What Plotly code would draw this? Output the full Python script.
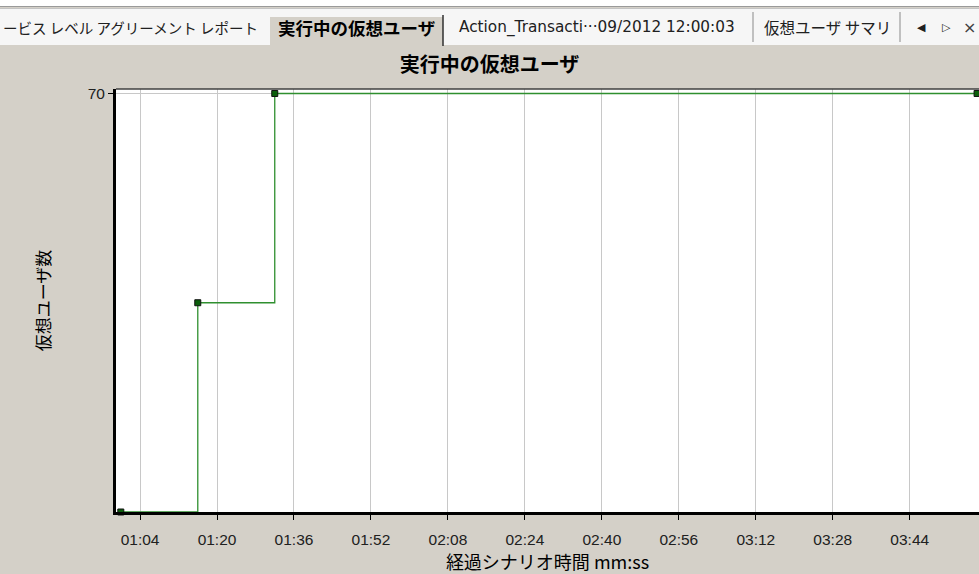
import plotly.graph_objects as go

# elapsed scenario time (seconds) and running vusers
elapsed_sec = [60, 76, 92, 238]
running_vusers = [0, 35, 70, 70]

tick_sec = [64, 80, 96, 112, 128, 144, 160, 176, 192, 208, 224]
tick_text = ['01:04', '01:20', '01:36', '01:52', '02:08', '02:24',
             '02:40', '02:56', '03:12', '03:28', '03:44']

tab_labels = ['ービス レベル アグリーメント レポート', '実行中の仮想ユーザ',
              'Action_Transacti···09/2012 12:00:03', '仮想ユーザ サマリ']

W, H = 979, 574
L, R, T, B = 116, 0, 89, 62
PW, PH = W - L - R, H - T - B

JP = 'Noto Sans CJK JP, Liberation Sans, sans-serif'
LAT = 'Liberation Sans, Arial, Noto Sans CJK JP, sans-serif'
BG = '#d4d0c8'


def px(x):
    return (x - L) / PW


def py(y):
    return (H - B - y) / PH


fig = go.Figure(go.Scatter(
    x=elapsed_sec, y=running_vusers,
    mode='lines+markers',
    line=dict(color='#2f8f2f', width=1.3, shape='hv'),
    marker=dict(symbol='square', size=6, color='#0b5e0b',
                line=dict(color='#111111', width=1)),
    cliponaxis=False,
    showlegend=False,
))

shapes = [
    # tab strip
    dict(type='rect', x0=px(0), x1=px(W), y0=py(0), y1=py(6), fillcolor='white', line_width=0),
    dict(type='rect', x0=px(0), x1=px(W), y0=py(9), y1=py(45), fillcolor='#f6f6f6', line_width=0),
    dict(type='line', x0=px(0), x1=px(W), y0=py(6.5), y1=py(6.5), line=dict(color='#9a9a9a', width=1)),
    dict(type='line', x0=px(0), x1=px(W), y0=py(8.5), y1=py(8.5), line=dict(color='#c4c4c4', width=1)),
    dict(type='rect', x0=px(270), x1=px(443), y0=py(17), y1=py(46), fillcolor=BG, line_width=0),
    dict(type='line', x0=px(443), x1=px(443), y0=py(15), y1=py(46), line=dict(color='#303030', width=1.5)),
    dict(type='line', x0=px(753), x1=px(753), y0=py(12), y1=py(42), line=dict(color='#8a8a8a', width=1)),
    dict(type='line', x0=px(900), x1=px(900), y0=py(12), y1=py(42), line=dict(color='#8a8a8a', width=1)),
    # top border of plot
    dict(type='line', x0=0, x1=1, y0=1, y1=1, line=dict(color='#404040', width=1.5)),
]
for s in shapes:
    s.update(xref='paper', yref='paper')

annotations = [
    dict(text=tab_labels[0], x=px(1), y=py(27), xanchor='left', yanchor='middle',
         font=dict(family=JP, size=14.5, color='#202020')),
    dict(text='<b>' + tab_labels[1] + '</b>', x=px(276), y=py(27), xanchor='left', yanchor='middle',
         font=dict(family=JP, size=17.5, color='#000000')),
    dict(text=tab_labels[2], x=px(457), y=py(27), xanchor='left', yanchor='middle',
         font=dict(family='DejaVu Sans, sans-serif', size=15.3, color='#202020')),
    dict(text=tab_labels[3], x=px(762), y=py(27), xanchor='left', yanchor='middle',
         font=dict(family=JP, size=15.5, color='#202020')),
    dict(text='◀', x=px(921), y=py(27), xanchor='center', yanchor='middle',
         font=dict(family='DejaVu Sans', size=11, color='#202020')),
    dict(text='▷', x=px(946), y=py(27), xanchor='center', yanchor='middle',
         font=dict(family='DejaVu Sans', size=11, color='#202020')),
    dict(text='×', x=px(969), y=py(27), xanchor='center', yanchor='middle',
         font=dict(family='DejaVu Sans', size=16, color='#404040')),
]
for a in annotations:
    a.update(xref='paper', yref='paper', showarrow=False)

fig.update_layout(
    width=W, height=H,
    margin=dict(l=L, r=R, t=T, b=B, pad=0, autoexpand=False),
    paper_bgcolor=BG,
    plot_bgcolor='white',
    title=dict(text='実行中の仮想ユーザ', x=0.5, xref='container', xanchor='center',
               y=1 - 65 / H, yref='container', yanchor='middle',
               font=dict(family=JP, size=20, color='#000000', weight='bold')),
    xaxis=dict(
        range=[59, 238.4], automargin=False,
        tickvals=tick_sec, ticktext=tick_text,
        ticks='outside', ticklen=5, tickwidth=1, tickcolor='#000000',
        ticklabelstandoff=6,
        showgrid=True, gridcolor='#c8c8c8', gridwidth=1,
        showline=True, linecolor='#000000', linewidth=3,
        zeroline=False,
        tickfont=dict(family=LAT, size=15.5, color='#202020'),
        title=dict(text='経過シナリオ時間 mm:ss', standoff=2,
                   font=dict(family=JP, size=18, color='#000000')),
    ),
    yaxis=dict(
        range=[0, 70.75], automargin=False,
        tickvals=[70], ticktext=['70'],
        ticks='outside', ticklen=5, tickwidth=1, tickcolor='#000000',
        showgrid=True, gridcolor='#c8c8c8', gridwidth=1,
        showline=True, linecolor='#000000', linewidth=3,
        zeroline=False,
        tickfont=dict(family=LAT, size=15.5, color='#202020'),
        title=dict(text='仮想ユーザ数', standoff=33,
                   font=dict(family=JP, size=17, color='#000000')),
    ),
    shapes=shapes,
    annotations=annotations,
)

# the page body keeps an 8px margin by default; drop it so the figure fills the window
fig.write_html('out.html', config=dict(displayModeBar=False),
               post_script="document.body.style.margin='0';document.body.style.overflow='hidden';")
